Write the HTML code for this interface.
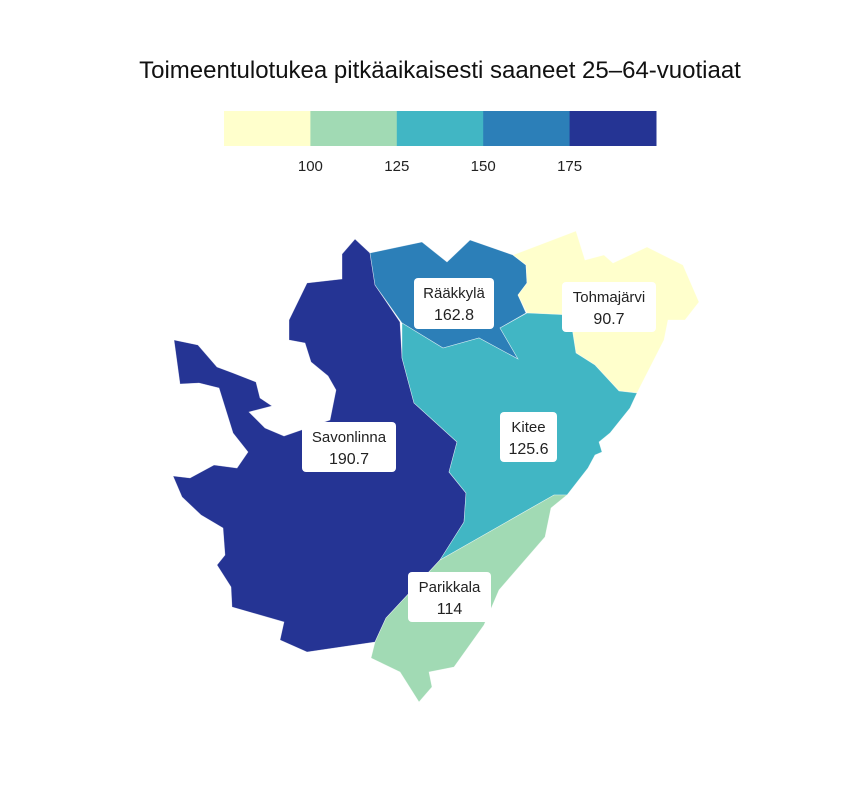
<!DOCTYPE html>
<html><head><meta charset="utf-8"><style>
html,body{margin:0;padding:0;background:#fff;}
svg{display:block;font-family:"Liberation Sans",sans-serif;}
</style></head><body>
<svg id="chart" width="864" height="792" viewBox="0 0 864 792">
<text x="440" y="78" text-anchor="middle" font-size="24" fill="#111">Toimeentulotukea pitkäaikaisesti saaneet 25–64-vuotiaat</text>
<g id="legend"></g>
<g id="map"></g>
<g id="labels"></g>
</svg>
<script>
const regions = ["Savonlinna","Rääkkylä","Tohmajärvi","Kitee","Parikkala"];
const values = [190.7,162.8,90.7,125.6,114];
const breaks = [100,125,150,175];
const legendTicks = ["100","125","150","175"];
const palette = ["#ffffcc","#a1dab4","#41b6c4","#2c7fb8","#253494"];

const shapes = {
 "Savonlinna":"355,239 370,253 375,285 400,322 402,358 414,403 457,442 449,472 466,493 464,522 440,560 386,618 375,642 307,652 280,640 284,622 232,607 231,587 217,565 225,555 223,528 201,515 182,497 173,476 190,478 214,465 237,468 248,452 233,433 219,388 199,383 180,384 174,340 198,345 217,367 233,373 256,382 260,398 272,406 249,412 265,428 284,436 330,420 336,390 328,376 311,362 305,343 289,340 289,320 307,283 342,279 342,254",
 "Rääkkylä":"370,253 422,242 447,262 470,240 513,255 526,265 527,283 518,295 526,313 500,328 518,359 479,338 443,348 402,323 375,285",
 "Tohmajärvi":"513,255 576,231 585,260 604,255 613,263 647,247 683,265 699,302 685,320 668,320 664,340 637,393 619,391 595,365 576,353 570,315 527,313 518,295 527,283 526,265",
 "Kitee":"402,323 443,348 479,338 518,359 500,328 527,313 570,315 576,353 595,365 619,391 637,393 630,408 610,433 599,442 602,452 595,455 588,468 567,495 554,495 440,560 464,522 466,493 449,472 457,442 414,403 402,358",
 "Parikkala":"440,560 554,495 567,495 551,508 545,537 499,590 484,625 454,667 429,672 432,687 419,702 400,672 371,658 375,642 386,618"
};
const labelBoxes = {
 "Savonlinna":[302,422,94,50],"Rääkkylä":[414,278,80,51],"Tohmajärvi":[562,282,94,50],
 "Kitee":[500,412,57,50],"Parikkala":[408,572,83,50]
};
const NS="http://www.w3.org/2000/svg";
function colorFor(v){let i=0;while(i<breaks.length&&v>=breaks[i])i++;return palette[i];}
function mk(t,a){const e=document.createElementNS(NS,t);for(const k in a)e.setAttribute(k,a[k]);return e;}

const lx=224,lw=432,ly=111,lh=35,seg=lw/palette.length;
const lg=document.getElementById('legend');
palette.forEach((c,i)=>{
 const r=mk('rect',{x:lx+i*seg,y:ly,width:seg+0.5,height:lh,fill:c});
 
 
 lg.appendChild(r);
});
legendTicks.forEach((t,i)=>{
 const tx=mk('text',{x:lx+(i+1)*seg,y:171,'text-anchor':'middle','font-size':'15',fill:'#222'});
 tx.textContent=t;
 
 
 lg.appendChild(tx);
});

const mg=document.getElementById('map'),lb=document.getElementById('labels');
regions.forEach((n,i)=>{
 const p=mk('polygon',{points:shapes[n],fill:colorFor(values[i]),stroke:'#ffffff','stroke-width':'0.6','stroke-opacity':'0.6'});
 
 
 mg.appendChild(p);
 const b=labelBoxes[n];
 const g=mk('g',{});
 
 
 g.appendChild(mk('rect',{x:b[0],y:b[1],width:b[2],height:b[3],rx:4,fill:'#fff'}));
 const t1=mk('text',{x:b[0]+b[2]/2,y:b[1]+20,'text-anchor':'middle','font-size':'15',fill:'#222'});
 t1.textContent=n;g.appendChild(t1);
 const t2=mk('text',{x:b[0]+b[2]/2,y:b[1]+42,'text-anchor':'middle','font-size':'16',fill:'#222'});
 t2.textContent=String(values[i]);g.appendChild(t2);
 lb.appendChild(g);
});
</script>
</body></html>
